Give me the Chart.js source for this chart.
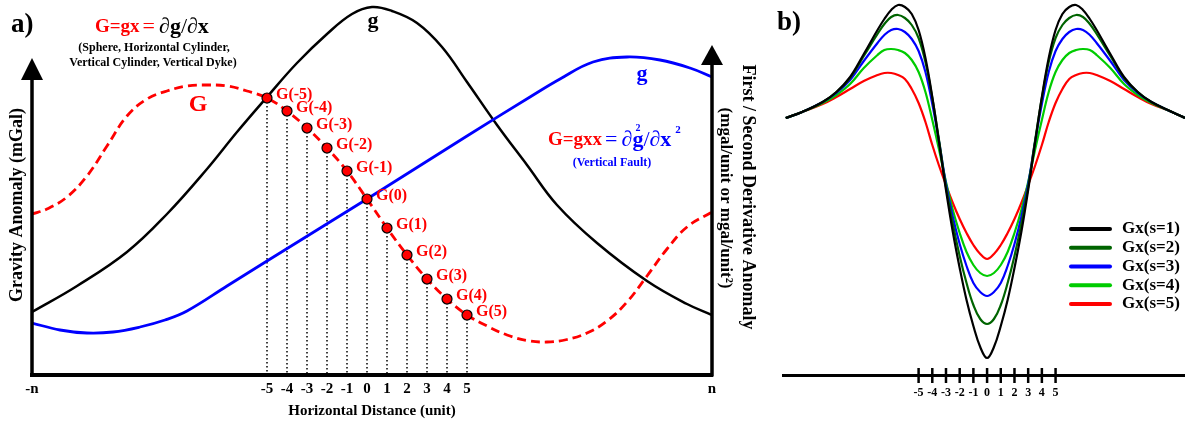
<!DOCTYPE html>
<html><head><meta charset="utf-8">
<script src="https://cdn.jsdelivr.net/npm/chart.js"></script>
<style>
html,body{margin:0;padding:0;background:#fff;}
#wrap{position:relative;width:1185px;height:423px;overflow:hidden;background:#fff;}
#ca{position:absolute;left:0;top:0;}
#cb{position:absolute;left:775px;top:0;}
</style></head><body>
<div id="wrap"><canvas id="ca" width="775" height="423"></canvas><canvas id="cb" width="410" height="423"></canvas></div>
<script>
// ---------- Panel a data ----------
const A_X_MIN = -16.75, A_X_MAX = 17.25, A_Y_MIN = -3, A_Y_MAX = 372;
const A_TICK_VALUES = [-16.75,-5,-4,-3,-2,-1,0,1,2,3,4,5,17.25];
const A_TICK_LABELS = ['-n','-5','-4','-3','-2','-1','0','1','2','3','4','5','n'];

const g_sphere_x = [-16.75,-14.5,-12,-10,-8,-6.5,-5,-3.5,-2,-0.75,0.25,1.25,2.5,3.75,5,6.5,8,9.5,11.5,14,16,17.25];
const g_sphere_y = [60,86,120,158,203,240,275,309,338,358,365,361,349,325,290,247,207,167,129,91,68,57];

const g_fault_x = [-16.75,-15.35,-14,-12.7,-11.35,-10.1,-9,-7,-5,0,5,8.15,9.65,11.3,13,14.65,16.15,17.25];
const g_fault_y = [49,42,39,40,45,52,61,86,111,173,236,275,293,310,315,312,304,295];

const G_curve_x = [-16.75,-16,-15,-14,-13,-12,-11,-10,-9,-8,-7,-6,-5,-4,-3,-2,-1,0,1,2,3,4,5,6,7,8,9,10,11,12,13,14,15,16,17.25];
const G_curve_y = [158,163,175,196,226,256,273,281,286,287,286,281,274,261,244,224,201,173,144,117,93,73,57,46,37,31.5,30,32.5,39,51,70,96,123,145,160];

const G_point_x = [-5,-4,-3,-2,-1,0,1,2,3,4,5];
const G_point_y = [274,261,244,224,201,173,144,117,93,73,57];
const G_point_labels = ['G(-5)','G(-4)','G(-3)','G(-2)','G(-1)','G(0)','G(1)','G(2)','G(3)','G(4)','G(5)'];

// ---------- Panel b data ----------
const B_X_MIN = -14.9, B_X_MAX = 14.45, B_Y_MIN = -257, B_Y_MAX = 118;
const B_TICKS = [-5,-4,-3,-2,-1,0,1,2,3,4,5];
const B_X = [-14.7,-13.5,-12,-11,-10,-9,-8,-7.5,-7,-6.5,-6,-5.5,-5,-4.5,-4,-3.5,-3,-2.5,-2,-1.5,-1,-0.5,0,
             0.5,1,1.5,2,2.5,3,3.5,4,4.5,5,5.5,6,6.5,7,7.5,8,9,10,11,12,13.5,14.45];
const B_NAMES = ['Gx(s=1)','Gx(s=2)','Gx(s=3)','Gx(s=4)','Gx(s=5)'];
const B_COLORS = ['#000000','#006400','#0000ff','#00cc00','#ff0000'];
const gx_s1 = [0,6,16,26,41,64,88,99,108,113,111,104,88,60,21,-25,-72,-114,-150,-182,-208,-229,-240,
               -229,-208,-182,-150,-114,-72,-25,21,60,88,104,111,113,108,99,88,64,41,26,16,6,0];
const gx_s2 = [0,6,16,26,40,62,84,94,101,103,100,93,80,56,20,-23,-69,-106,-138,-165,-187,-201,-206,
               -201,-187,-165,-138,-106,-69,-23,20,56,80,93,100,103,101,94,84,62,40,26,16,6,0];
const gx_s3 = [0,6,16,25,38,57,75,83,88,89,86,79,67,46,14,-24,-66,-99,-126,-148,-165,-174,-178,
               -174,-165,-148,-126,-99,-66,-24,14,46,67,79,86,89,88,83,75,57,38,25,16,6,0];
const gx_s4 = [0,6,15,23,34,50,63,68,69,68,65,58,46,26,-2,-32,-64,-92,-115,-134,-147,-155,-158,
               -155,-147,-134,-115,-92,-64,-32,-2,26,46,58,65,68,69,68,63,50,34,23,15,6,0];
const gx_s5 = [0,6,14,21,29,37,43,45,45,43,39,29,15,-4,-27,-48,-67,-85,-101,-115,-127,-136,-141,
               -136,-127,-115,-101,-85,-67,-48,-27,-4,15,29,39,43,45,45,43,37,29,21,14,6,0];
const B_SERIES = [gx_s1,gx_s2,gx_s3,gx_s4,gx_s5];

// ---------- helpers ----------
const SERIF = "'Liberation Serif','Times New Roman',serif";
const RED = '#ff0000', BLUE = '#0000ff';
function pts(xs, ys){ return xs.map((x,i)=>({x:x, y:ys[i]})); }
function text(ctx, s, x, y, font, color, align, rot){
  ctx.save();
  ctx.translate(x,y);
  if (rot) ctx.rotate(rot);
  ctx.font = font; ctx.fillStyle = color;
  ctx.textAlign = align || 'left'; ctx.textBaseline = 'middle';
  ctx.fillText(s,0,0);
  ctx.restore();
}
function rich(ctx, x, y, parts){
  let cx = x;
  ctx.save();
  ctx.textAlign='left'; ctx.textBaseline='middle';
  for (const p of parts){
    ctx.font = p.f; ctx.fillStyle = p.c;
    ctx.fillText(p.t, cx + (p.dx||0), y + (p.dy||0));
    if (!p.na) cx += ctx.measureText(p.t).width + (p.gap||0);
  }
  ctx.restore();
}

// ---------- Panel a ----------
const panelAPlugin = {
  id:'panelA',
  afterDraw(chart){
    const ctx = chart.ctx, ca = chart.chartArea;
    const xs = chart.scales.x, ys = chart.scales.y;
    ctx.save();
    ctx.strokeStyle='#000'; ctx.fillStyle='#000'; ctx.lineWidth=3.5;
    const axes = [{x:ca.left, tip:58, base:80},{x:ca.right, tip:45, base:65}];
    for (const a of axes){
      ctx.beginPath(); ctx.moveTo(a.x, a.base); ctx.lineTo(a.x, ca.bottom+1.5); ctx.stroke();
      ctx.beginPath(); ctx.moveTo(a.x, a.tip); ctx.lineTo(a.x-11, a.base); ctx.lineTo(a.x+11, a.base); ctx.closePath(); ctx.fill();
    }
    ctx.restore();
    G_point_x.forEach((v,i)=>{
      const px = xs.getPixelForValue(v), py = ys.getPixelForValue(G_point_y[i]);
      text(ctx, G_point_labels[i], px+9, py-3, 'bold 16px '+SERIF, RED, 'left');
    });
    text(ctx, 'a)', 11, 25, 'bold 27px '+SERIF, '#000', 'left');
    text(ctx, 'Gravity Anomaly (mGal)', 17, 205, 'bold 18px '+SERIF, '#000', 'center', -Math.PI/2);
    text(ctx, 'First / Second Derivative Anomaly', 748, 197, 'bold 18px '+SERIF, '#000', 'center', Math.PI/2);
    text(ctx, '(mgal/unit or mgal/unit\u00B2)', 725, 198, 'bold 17px '+SERIF, '#000', 'center', Math.PI/2);
    text(ctx, 'G', 198, 105, 'bold 24px '+SERIF, RED, 'center');
    text(ctx, 'g', 373, 21, 'bold 22px '+SERIF, '#000', 'center');
    text(ctx, 'g', 642, 74, 'bold 22px '+SERIF, BLUE, 'center');
    rich(ctx, 95, 27, [
      {t:'G=gx', f:'bold 19px '+SERIF, c:RED, gap:3},
      {t:'=', f:'22px '+SERIF, c:RED, gap:4},
      {t:'\u2202', f:'22px '+SERIF, c:'#000'},
      {t:'g', f:'bold 22px '+SERIF, c:'#000'},
      {t:'/', f:'22px '+SERIF, c:'#000'},
      {t:'\u2202', f:'22px '+SERIF, c:'#000'},
      {t:'x', f:'bold 22px '+SERIF, c:'#000'}
    ]);
    text(ctx, '(Sphere, Horizontal Cylinder,', 154, 48, 'bold 12px '+SERIF, '#000', 'center');
    text(ctx, 'Vertical Cylinder, Vertical Dyke)', 153, 63, 'bold 12px '+SERIF, '#000', 'center');
    rich(ctx, 548, 140, [
      {t:'G=gxx', f:'bold 19px '+SERIF, c:RED, gap:3},
      {t:'=', f:'22px '+SERIF, c:BLUE, gap:4},
      {t:'\u2202', f:'22px '+SERIF, c:BLUE},
      {t:'g', f:'bold 22px '+SERIF, c:BLUE},
      {t:'2', f:'bold 10px '+SERIF, c:BLUE, dx:-8, dy:-12, na:true},
      {t:'/', f:'22px '+SERIF, c:BLUE},
      {t:'\u2202', f:'22px '+SERIF, c:BLUE},
      {t:'x', f:'bold 22px '+SERIF, c:BLUE},
      {t:'2', f:'bold 11px '+SERIF, c:BLUE, dx:4, dy:-10, na:true}
    ]);
    text(ctx, '(Vertical Fault)', 612, 163, 'bold 12px '+SERIF, BLUE, 'center');
  }
};

const dottedSets = G_point_x.map((v,i)=>({
  label:'drop'+i, data:[{x:v,y:G_point_y[i]},{x:v,y:A_Y_MIN}],
  borderColor:'#000', borderWidth:1.5, borderDash:[1.5,2.5], pointRadius:0, tension:0, order:5
}));

new Chart(document.getElementById('ca'), {
  type:'line',
  data:{ datasets:[
    {label:'G points', type:'scatter', data:pts(G_point_x,G_point_y), showLine:false,
     pointRadius:5, pointBackgroundColor:RED, pointBorderColor:'#000', pointBorderWidth:1.2, order:0, clip:false},
    {label:'G', data:pts(G_curve_x,G_curve_y), borderColor:RED, borderWidth:2.8, borderDash:[9,5],
     pointRadius:0, tension:0.4, order:1},
    {label:'g fault', data:pts(g_fault_x,g_fault_y), borderColor:BLUE, borderWidth:2.8,
     pointRadius:0, tension:0.4, order:2},
    {label:'g sphere', data:pts(g_sphere_x,g_sphere_y), borderColor:'#000', borderWidth:2.5,
     pointRadius:0, tension:0.4, order:3},
    ...dottedSets
  ]},
  options:{
    responsive:false, animation:false, devicePixelRatio:1,
    layout:{autoPadding:false, padding:{left:32, right:63, top:0, bottom:4}},
    plugins:{legend:{display:false}, tooltip:{enabled:false}},
    scales:{
      x:{type:'linear', min:A_X_MIN, max:A_X_MAX,
         grid:{display:false, drawTicks:false}, border:{display:true, color:'#000', width:4},
         afterBuildTicks:(s)=>{ s.ticks = A_TICK_VALUES.map(v=>({value:v})); },
         ticks:{autoSkip:false, maxRotation:0, padding:7, color:'#000',
                font:{family:SERIF, size:15, weight:'bold', lineHeight:1},
                callback:(v,i)=>A_TICK_LABELS[i]},
         title:{display:true, text:'Horizontal Distance (unit)', color:'#000',
                font:{family:SERIF, size:15, weight:'bold', lineHeight:1}, padding:{top:0,bottom:0}}
      },
      y:{type:'linear', display:false, min:A_Y_MIN, max:A_Y_MAX}
    }
  },
  plugins:[panelAPlugin]
});

// ---------- Panel b ----------
const panelBPlugin = {
  id:'panelB',
  afterDraw(chart){
    const ctx = chart.ctx, ca = chart.chartArea, xs = chart.scales.x;
    ctx.save();
    ctx.strokeStyle='#000'; ctx.lineWidth=2.5;
    B_TICKS.forEach(v=>{
      const px = xs.getPixelForValue(v);
      ctx.beginPath(); ctx.moveTo(px, ca.bottom-7); ctx.lineTo(px, ca.bottom+8); ctx.stroke();
    });
    B_NAMES.forEach((n,i)=>{
      const y = 229 + i*18.75;
      ctx.strokeStyle = B_COLORS[i]; ctx.lineWidth = 4; ctx.lineCap='round';
      ctx.beginPath(); ctx.moveTo(296, y); ctx.lineTo(335, y); ctx.stroke();
      text(ctx, n, 347, y, 'bold 17px '+SERIF, '#000', 'left');
    });
    ctx.restore();
    text(ctx, 'b)', 2, 23, 'bold 27px '+SERIF, '#000', 'left');
  }
};

new Chart(document.getElementById('cb'), {
  type:'line',
  data:{ datasets: B_SERIES.map((s,i)=>({
    label:B_NAMES[i], data:pts(B_X,s), borderColor:B_COLORS[i], borderWidth:2.2,
    pointRadius:0, tension:0.4, order:i
  }))},
  options:{
    responsive:false, animation:false, devicePixelRatio:1,
    layout:{autoPadding:false, padding:{left:8, right:0, top:0, bottom:12}},
    plugins:{legend:{display:false}, tooltip:{enabled:false}},
    scales:{
      x:{type:'linear', min:B_X_MIN, max:B_X_MAX,
         grid:{display:false, drawTicks:false}, border:{display:true, color:'#000', width:3},
         afterBuildTicks:(s)=>{ s.ticks = B_TICKS.map(v=>({value:v})); },
         ticks:{autoSkip:false, maxRotation:0, padding:12, color:'#000',
                font:{family:SERIF, size:12, weight:'bold', lineHeight:1}}
      },
      y:{type:'linear', display:false, min:B_Y_MIN, max:B_Y_MAX}
    }
  },
  plugins:[panelBPlugin]
});
</script>
</body></html>
